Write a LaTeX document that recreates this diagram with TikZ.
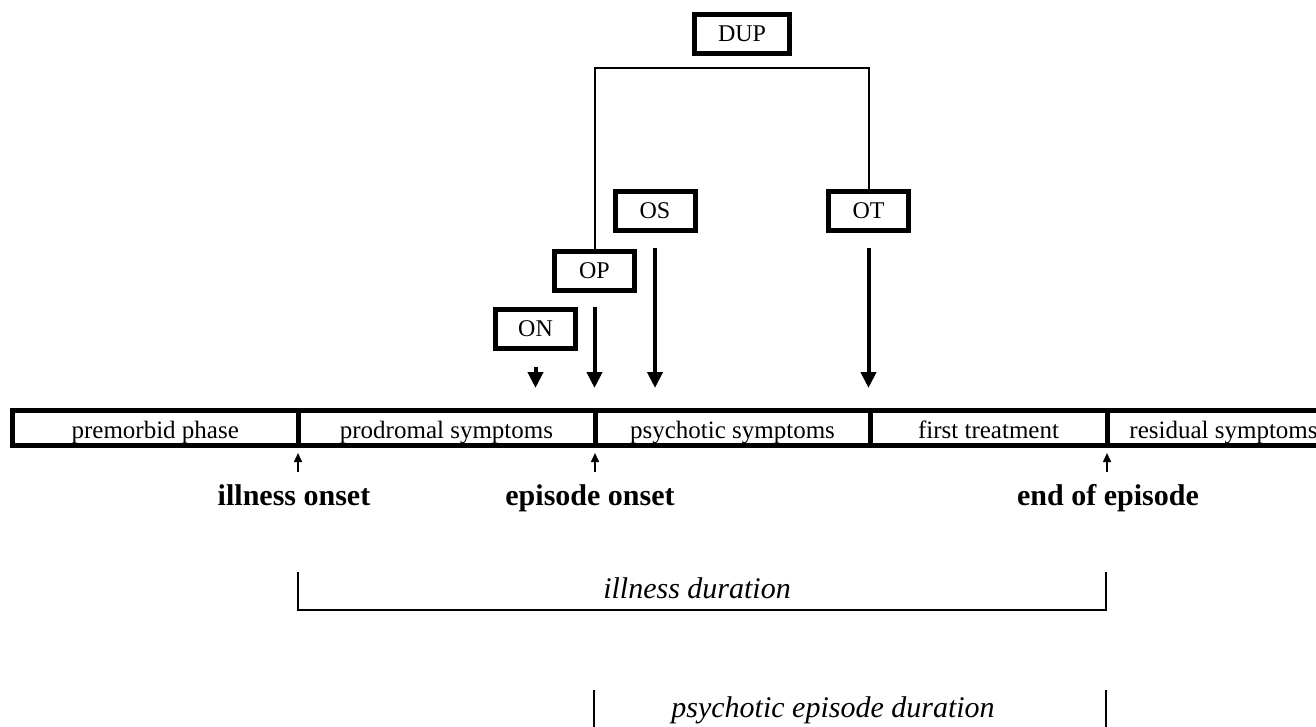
\documentclass[tikz,border=0pt]{standalone}
\usepackage{fontspec}
\setmainfont{Liberation Serif}
\usetikzlibrary{arrows.meta}
\begin{document}
\begin{tikzpicture}[x=1pt,y=-1pt,
  labbox/.style={draw, line width=5pt, minimum width=80pt, minimum height=39pt, inner sep=0pt, font=\fontsize{24}{28}\selectfont},
  cell/.style={draw, line width=5pt, minimum height=35pt, inner sep=0pt, text height=20pt, text depth=0pt, font=\fontsize{25}{30}\selectfont},
  bigarrow/.style={line width=4pt, -{Triangle[width=15pt,length=16pt]}},
  smallarrow/.style={line width=1.6pt, -{Triangle[width=8pt,length=9pt]}},
  bracketline/.style={line width=2pt},
  eventlabel/.style={font=\fontsize{30}{36}\selectfont\bfseries, anchor=base, inner sep=0pt},
  spanlabel/.style={font=\fontsize{30}{36}\selectfont\itshape, anchor=base, inner sep=0pt}]
\useasboundingbox (0,0) rectangle (1316,726);

% timeline cells
\node[cell, minimum width=285.5pt] (prem) at (155.25,428) {premorbid phase};
\node[cell, minimum width=297pt] (prod) at (446.5,428) {prodromal symptoms};
\node[cell, minimum width=275pt] (psy) at (732.5,428) {psychotic symptoms};
\node[cell, minimum width=237pt] (treat) at (988.5,428) {first treatment};
\node[cell, minimum width=233pt] (resid) at (1223.5,428) {residual symptoms};

% boxes
\node[labbox, minimum width=95pt] (DUP) at (742,33.5) {DUP};
\node[labbox] (OS) at (655,211) {OS};
\node[labbox] (OT) at (868.5,211) {OT};
\node[labbox] (OP) at (594.5,270.5) {OP};
\node[labbox] (ON) at (535.5,329) {ON};

% DUP bracket
\coordinate (dupbar) at (730,68);
\draw[bracketline] (OP.north) |- (dupbar) -| (OT.north);

% big arrows
\coordinate (tipline) at (0,388);
\draw[bigarrow, shorten <=16pt] (ON.south) -- (ON.south |- tipline);
\draw[bigarrow, shorten <=14pt] (OP.south) -- (OP.south |- tipline);
\draw[bigarrow, shorten <=15pt] (OS.south) -- (OS.south |- tipline);
\draw[bigarrow, shorten <=15pt] (OT.south) -- (OT.south |- tipline);

% event labels and small arrows
\node[eventlabel] (illon) at (294,505) {illness onset};
\node[eventlabel] (epon) at (590,505) {episode onset};
\node[eventlabel] (endep) at (1108,505) {end of episode};
\coordinate (u1) at (298,472);
\coordinate (u2) at (595,472);
\coordinate (u3) at (1107,472);
\draw[smallarrow, shorten >=5pt] (u1) -- (u1 |- prem.south);
\draw[smallarrow, shorten >=5pt] (u2) -- (u2 |- prem.south);
\draw[smallarrow, shorten >=5pt] (u3) -- (u3 |- prem.south);

% illness duration
\coordinate (id1) at (298,572);
\coordinate (id2) at (1106,572);
\coordinate (idb) at (700,610);
\draw[bracketline] (id1) |- (idb) -| (id2);
\node[spanlabel] (illdur) at (697,598) {illness duration};

% psychotic episode duration
\coordinate (pd1) at (594,690);
\coordinate (pd1b) at (594,730);
\coordinate (pd2) at (1106,690);
\coordinate (pd2b) at (1106,730);
\draw[bracketline] (pd1) -- (pd1b);
\draw[bracketline] (pd2) -- (pd2b);
\node[spanlabel] (psydur) at (833,717) {psychotic episode duration};
\end{tikzpicture}
\end{document}
